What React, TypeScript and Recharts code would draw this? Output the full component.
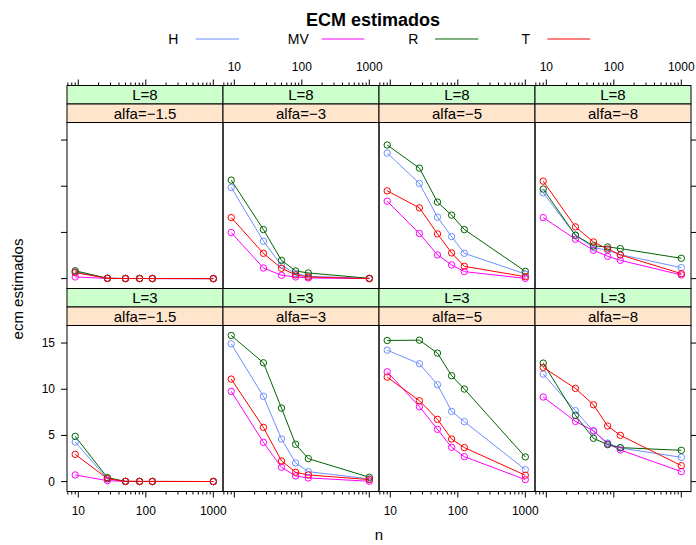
import { LineChart, Line, XAxis, YAxis } from 'recharts';

const nValues = [9, 27, 50, 81, 125, 1000];
const methods = ['H', 'MV', 'R', 'T'];
const methodColors = ['#6e8fff', '#ff00ff', '#006400', '#ff0000'];
const levelLabels = ['L=8', 'L=3'];
const alfaLabels = ['alfa=\u22121.5', 'alfa=\u22123', 'alfa=\u22125', 'alfa=\u22128'];
const xMajorTicks = [10, 100, 1000];
const xMinorTicks = [7, 8, 9, 20, 30, 40, 50, 60, 70, 80, 90, 200, 300, 400, 500, 600, 700, 800, 900];
const yTicks = [0, 5, 10, 15];

// ECM for L=8, one row per alfa (-1.5, -3, -5, -8), one value per n
const hL8 = [
  [0.75, 0.03, 0.01, 0.01, 0.01, 0.0],
  [9.87, 4.05, 1.44, 0.54, 0.25, 0.03],
  [13.59, 10.3, 6.65, 4.55, 2.74, 0.5],
  [9.29, 4.7, 3.36, 3.07, 2.6, 1.19],
];
const mvL8 = [
  [0.18, 0.02, 0.01, 0.01, 0.0, 0.0],
  [4.99, 1.15, 0.36, 0.18, 0.07, 0.0],
  [8.38, 4.88, 2.56, 1.48, 0.76, 0.03],
  [6.61, 4.26, 3.07, 2.42, 1.98, 0.4],
];
const rL8 = [
  [0.85, 0.04, 0.01, 0.01, 0.01, 0.0],
  [10.66, 5.31, 1.98, 0.83, 0.61, 0.03],
  [14.46, 11.96, 8.28, 6.87, 5.31, 0.79],
  [9.69, 4.7, 3.54, 3.43, 3.25, 2.2],
];
const tL8 = [
  [0.65, 0.03, 0.01, 0.01, 0.01, 0.0],
  [6.61, 2.74, 1.12, 0.4, 0.18, 0.0],
  [9.5, 7.66, 4.84, 2.78, 1.33, 0.21],
  [10.55, 5.6, 3.97, 3.21, 2.56, 0.54],
];

// ECM for L=3
const hL3 = [
  [4.29, 0.29, 0.02, 0.02, 0.02, 0.01],
  [14.92, 9.23, 4.61, 2.02, 1.08, 0.29],
  [14.23, 12.76, 10.49, 7.6, 6.49, 1.3],
  [11.64, 7.68, 5.44, 4.18, 3.64, 2.63],
];
const mvL3 = [
  [0.72, 0.11, 0.02, 0.02, 0.01, 0.01],
  [9.77, 4.25, 1.55, 0.61, 0.4, 0.04],
  [11.89, 8.11, 5.66, 3.71, 2.7, 0.22],
  [9.16, 6.52, 5.51, 4.08, 3.43, 1.08],
];
const rL3 = [
  [4.9, 0.43, 0.03, 0.02, 0.02, 0.01],
  [15.82, 12.86, 7.96, 4.04, 2.49, 0.47],
  [15.28, 15.31, 13.91, 11.46, 10.02, 2.67],
  [12.83, 7.17, 4.69, 4.0, 3.68, 3.39],
];
const tL3 = [
  [2.95, 0.32, 0.03, 0.02, 0.02, 0.01],
  [11.1, 5.87, 2.24, 1.01, 0.72, 0.22],
  [11.31, 8.76, 6.74, 4.61, 3.68, 0.69],
  [12.36, 10.09, 8.32, 6.02, 5.01, 1.73],
];

const seriesByLevel = [
  [hL8, mvL8, rL8, tL8],
  [hL3, mvL3, rL3, tL3],
];

const W = 696;
const H = 545;
const FONT = '"Liberation Sans", Arial, Helvetica, sans-serif';
const PANEL_LEFT = 67;
const PANEL_W = 156;
const TOP = 85.5;
const STRIP_H = 18.5;
const PLOT_H = 166;
const ROW_H = 2 * STRIP_H + PLOT_H;
const X_DOMAIN = [6.8, 1392];
const Y_DOMAIN = [-1.07, 16.9];
const xTicks = [...xMinorTicks, ...xMajorTicks].sort((a, b) => a - b);

function panelBox(row: number, col: number) {
  const x = PANEL_LEFT + col * PANEL_W;
  const stripTop = TOP + row * ROW_H;
  const plotTop = stripTop + 2 * STRIP_H;
  return { x, stripTop, plotTop };
}

function XTick(props: any) {
  const { x, y, payload, dir, shift, showLabel } = props;
  const v = payload.value;
  const major = xMajorTicks.includes(v);
  const y0 = y + shift;
  const y1 = y0 + dir * (major ? 6 : 3);
  return (
    <g>
      <line x1={x} x2={x} y1={y0} y2={y1} stroke="#000" strokeWidth={1} />
      {showLabel && major && (
        <text x={x} y={dir > 0 ? y0 + 23.5 : y0 - 15} textAnchor="middle" fontSize={12} fill="#000" fontFamily={FONT}>
          {v}
        </text>
      )}
    </g>
  );
}

function YTick(props: any) {
  const { x, y, payload, dir, showLabel } = props;
  return (
    <g>
      <line x1={x} x2={x + dir * 6} y1={y} y2={y} stroke="#000" strokeWidth={1} />
      {showLabel && (
        <text x={x - 12} y={y + 4} textAnchor="end" fontSize={12} fill="#000" fontFamily={FONT}>
          {payload.value}
        </text>
      )}
    </g>
  );
}

function Panel({ row, col }: { row: number; col: number }) {
  const { x, plotTop } = panelBox(row, col);
  const series = seriesByLevel[row];
  const data = nValues.map((n, i) => {
    const d: Record<string, number> = { n };
    methods.forEach((m, k) => {
      d[m] = series[k][col][i];
    });
    return d;
  });
  const isTop = row === 0;
  const xLabel = isTop ? col % 2 === 1 : col % 2 === 0;
  const hasY = col === 0 || col === 3;

  // axes need 1px of room to be drawn at all
  const margin = {
    left: x - (col === 0 ? 1 : 0),
    right: W - x - PANEL_W - (col === 3 ? 1 : 0),
    top: plotTop - (isTop ? 1 : 0),
    bottom: H - plotTop - PLOT_H - (isTop ? 0 : 1),
  };

  return (
    <div style={{ position: 'absolute', left: 0, top: 0 }}>
      <LineChart width={W} height={H} data={data} margin={margin}>
        <XAxis
          dataKey="n"
          type="number"
          scale="log"
          domain={X_DOMAIN}
          allowDataOverflow
          ticks={xTicks}
          interval={0}
          orientation={isTop ? 'top' : 'bottom'}
          height={1}
          tickSize={0}
          tickMargin={0}
          axisLine={false}
          tick={(p: any) => (
            <XTick {...p} dir={isTop ? -1 : 1} shift={isTop ? -2 * STRIP_H : 0} showLabel={xLabel} />
          )}
        />
        {hasY ? (
          <YAxis
            type="number"
            scale="linear"
            domain={Y_DOMAIN}
            allowDataOverflow
            ticks={yTicks}
            interval={0}
            orientation={col === 0 ? 'left' : 'right'}
            width={1}
            tickSize={0}
            tickMargin={0}
            axisLine={false}
            tick={(p: any) => <YTick {...p} dir={col === 0 ? -1 : 1} showLabel={col === 0 && !isTop} />}
          />
        ) : (
          <YAxis type="number" scale="linear" domain={Y_DOMAIN} allowDataOverflow hide width={0} />
        )}
        {methods.map((m, k) => (
          <Line
            key={m}
            dataKey={m}
            stroke={methodColors[k]}
            strokeWidth={1}
            dot={{ r: 3.2, stroke: methodColors[k], strokeWidth: 1, fill: 'none' }}
            isAnimationActive={false}
          />
        ))}
      </LineChart>
    </div>
  );
}

function Frame() {
  const items: any[] = [];
  for (let row = 0; row < 2; row++) {
    for (let col = 0; col < 4; col++) {
      const { x, stripTop, plotTop } = panelBox(row, col);
      items.push(
        <g key={`${row}-${col}`}>
          <rect x={x} y={stripTop} width={PANEL_W} height={STRIP_H} fill="#ccffcc" stroke="#000" />
          <rect x={x} y={stripTop + STRIP_H} width={PANEL_W} height={STRIP_H} fill="#ffe5cc" stroke="#000" />
          <text x={x + PANEL_W / 2} y={stripTop + 14.5} textAnchor="middle" fontSize={15}>
            {levelLabels[row]}
          </text>
          <text x={x + PANEL_W / 2} y={stripTop + STRIP_H + 14.5} textAnchor="middle" fontSize={15}>
            {alfaLabels[col]}
          </text>
          <rect x={x} y={plotTop} width={PANEL_W} height={PLOT_H} fill="none" stroke="#000" />
        </g>
      );
    }
  }
  return (
    <svg width={W} height={H} style={{ position: 'absolute', left: 0, top: 0 }} fontFamily={FONT}>
      {items}
    </svg>
  );
}

const legendText = [173.3, 298.3, 413.3, 525.7];
const legendLine = [
  [195.7, 239],
  [321.7, 364.3],
  [435, 478.3],
  [547.3, 590],
];

function Titles() {
  return (
    <svg width={W} height={H} style={{ position: 'absolute', left: 0, top: 0 }} fontFamily={FONT}>
      <text x={373} y={25.5} textAnchor="middle" fontSize={18} fontWeight="bold">
        ECM estimados
      </text>
      {methods.map((m, k) => (
        <g key={m}>
          <text x={legendText[k]} y={44.3} textAnchor="middle" fontSize={14}>
            {m}
          </text>
          <line x1={legendLine[k][0]} x2={legendLine[k][1]} y1={39} y2={39} stroke={methodColors[k]} strokeWidth={1} />
        </g>
      ))}
      <text x={379} y={540} textAnchor="middle" fontSize={15}>
        n
      </text>
      <text x={23} y={289} textAnchor="middle" fontSize={15} transform="rotate(-90 23 289)">
        ecm estimados
      </text>
    </svg>
  );
}

export default function App() {
  const panels = [];
  for (let row = 0; row < 2; row++) {
    for (let col = 0; col < 4; col++) {
      panels.push(<Panel key={`${row}-${col}`} row={row} col={col} />);
    }
  }
  return (
    <div style={{ position: 'absolute', left: 0, top: 0, width: W, height: H, background: '#fff', fontFamily: FONT }}>
      <Frame />
      <Titles />
      {panels}
    </div>
  );
}
